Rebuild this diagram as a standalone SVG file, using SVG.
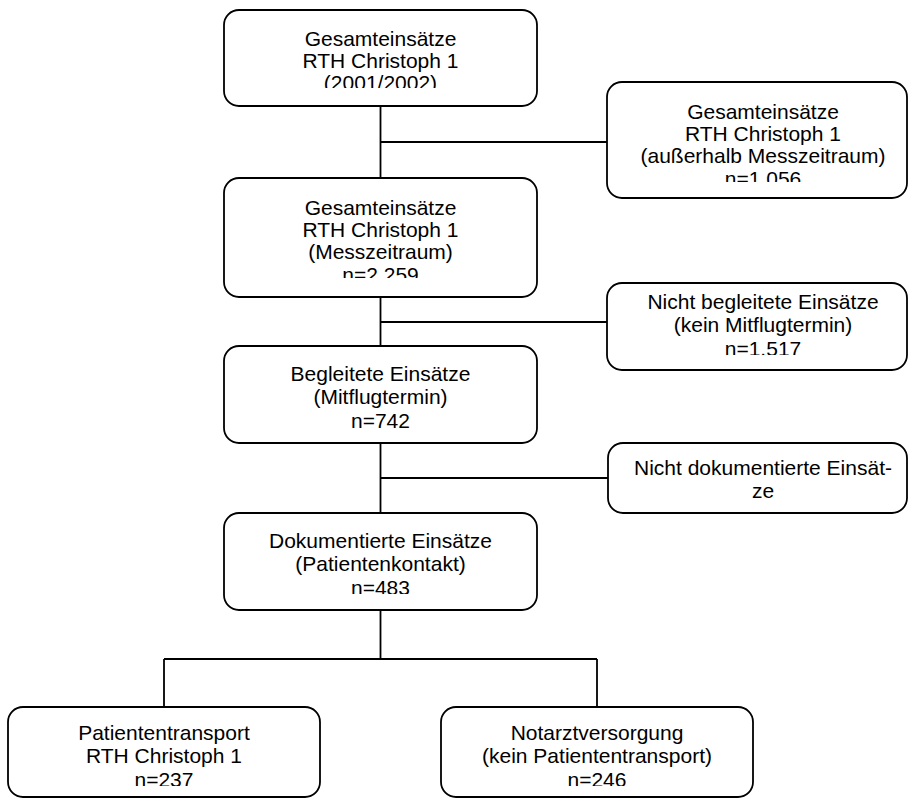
<svg xmlns="http://www.w3.org/2000/svg" width="910" height="800" viewBox="0 0 910 800">
<style>
.box{fill:#fff;stroke:#000;stroke-width:1.8}
.t{font-family:"Liberation Sans",Arial,sans-serif;font-size:21px;fill:#000;text-anchor:middle}
.c{stroke:#000;stroke-width:1.8;fill:none}
</style>
<defs>
<clipPath id="k1"><rect x="224" y="10" width="313" height="78"/></clipPath>
<clipPath id="k2"><rect x="607" y="82" width="300" height="100"/></clipPath>
<clipPath id="k3"><rect x="224" y="178" width="313" height="100"/></clipPath>
<clipPath id="k4"><rect x="607" y="283" width="300" height="72"/></clipPath>
<clipPath id="k6"><rect x="224" y="513" width="313" height="81"/></clipPath>
<clipPath id="k7"><rect x="8" y="707" width="312" height="79"/></clipPath>
<clipPath id="k8"><rect x="441" y="707" width="312" height="79"/></clipPath>
</defs>
<g id="connectors">
<path class="c" d="M380.5 106V178M380.5 142H607"/>
<path class="c" d="M380.5 297V346M380.5 322H607"/>
<path class="c" d="M380.5 443V513M380.5 478H608"/>
<path class="c" d="M380.5 610V659M164 659H597M164 659V707M597 659V707"/>
</g>
<g id="n1">
<rect class="box" x="224" y="10" width="313" height="96" rx="15"/>
<g clip-path="url(#k1)"><text class="t" x="380.5" y="46">Gesamteinsätze</text><text class="t" x="380.5" y="68">RTH Christoph 1</text><text class="t" x="380.5" y="90">(2001/2002)</text></g>
</g>
<g id="n2">
<rect class="box" x="607" y="82" width="300" height="116" rx="15"/>
<g clip-path="url(#k2)"><text class="t" x="763" y="119">Gesamteinsätze</text><text class="t" x="763" y="141">RTH Christoph 1</text><text class="t" x="763" y="163">(außerhalb Messzeitraum)</text><text class="t" x="763" y="186">n=1.056</text></g>
</g>
<g id="n3">
<rect class="box" x="224" y="178" width="313" height="119" rx="15"/>
<g clip-path="url(#k3)"><text class="t" x="380.5" y="215">Gesamteinsätze</text><text class="t" x="380.5" y="237">RTH Christoph 1</text><text class="t" x="380.5" y="259">(Messzeitraum)</text><text class="t" x="380.5" y="282">n=2.259</text></g>
</g>
<g id="n4">
<rect class="box" x="607" y="283" width="300" height="87" rx="15"/>
<g clip-path="url(#k4)"><text class="t" x="763" y="309">Nicht begleitete Einsätze</text><text class="t" x="763" y="332">(kein Mitflugtermin)</text><text class="t" x="763" y="356">n=1.517</text></g>
</g>
<g id="n5">
<rect class="box" x="224" y="346" width="313" height="97" rx="15"/>
<text class="t" x="380.5" y="381">Begleitete Einsätze</text><text class="t" x="380.5" y="404">(Mitflugtermin)</text><text class="t" x="380.5" y="428">n=742</text>
</g>
<g id="n6">
<rect class="box" x="608" y="443" width="299" height="70" rx="15"/>
<text class="t" x="763" y="475">Nicht dokumentierte Einsät-</text><text class="t" x="763" y="498">ze</text>
</g>
<g id="n7">
<rect class="box" x="224" y="513" width="313" height="97" rx="15"/>
<g clip-path="url(#k6)"><text class="t" x="380.5" y="548">Dokumentierte Einsätze</text><text class="t" x="380.5" y="571">(Patientenkontakt)</text><text class="t" x="380.5" y="595">n=483</text></g>
</g>
<g id="n8">
<rect class="box" x="8" y="707" width="312" height="90" rx="15"/>
<g clip-path="url(#k7)"><text class="t" x="164" y="740">Patiententransport</text><text class="t" x="164" y="763">RTH Christoph 1</text><text class="t" x="164" y="787">n=237</text></g>
</g>
<g id="n9">
<rect class="box" x="441" y="707" width="312" height="90" rx="15"/>
<g clip-path="url(#k8)"><text class="t" x="597" y="740">Notarztversorgung</text><text class="t" x="597" y="763">(kein Patiententransport)</text><text class="t" x="597" y="787">n=246</text></g>
</g>
</svg>
